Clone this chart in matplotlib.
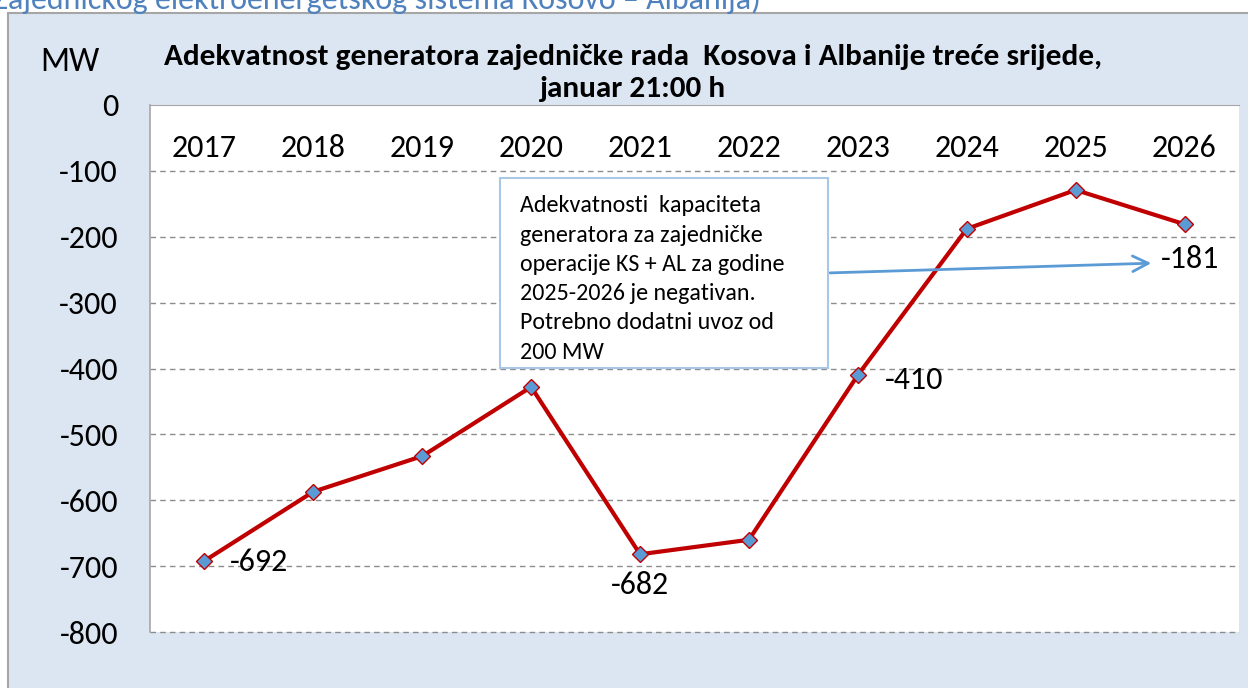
import matplotlib
matplotlib.use('Agg')
import matplotlib.pyplot as plt
from matplotlib import font_manager
from matplotlib.patches import Rectangle

# pick a Calibri-like font if one is there
names = set(f.name for f in font_manager.fontManager.ttflist)
font = 'DejaVu Sans'
for cand in ['Carlito', 'Liberation Sans Narrow', 'Open Sans', 'Noto Sans']:
    if cand in names:
        font = cand
        break
plt.rcParams['font.family'] = [font, 'DejaVu Sans']

years = ['2017', '2018', '2019', '2020', '2021', '2022', '2023', '2024', '2025', '2026']
values = [-692, -587, -533, -428, -682, -660, -410, -188, -129, -181]
labelled = {0: '-692', 4: '-682', 6: '-410', 9: '-181'}
yticks = [0, -100, -200, -300, -400, -500, -600, -700, -800]

title = 'Adekvatnost generatora zajedničke rada  Kosova i Albanije treće srijede,\njanuar 21:00 h'
note = ('Adekvatnosti  kapaciteta\ngeneratora za zajedničke\noperacije KS + AL za godine\n'
        '2025-2026 je negativan.\nPotrebno dodatni uvoz od\n200 MW')
top_text = 'Zajedničkog elektroenergetskog sistema Kosovo – Albanija)'

W, H = 1248, 688
fig = plt.figure(figsize=(W / 100, H / 100), dpi=100)
fig.patch.set_facecolor('white')

# light blue chart background with gray border
bg = Rectangle((8 / W, -0.1), 1.1, 1.1 - 13 / H, transform=fig.transFigure,
               facecolor='#dce6f2', edgecolor='#a6a6a6', linewidth=1.5, zorder=-1)
fig.patches.append(bg)

fig.text(-0.006, 1 + 1 / H, top_text, color='#4f81bd', fontsize=23, ha='left', va='center')

ax = fig.add_axes([150 / W, 1 - 632 / H, (1239 - 150) / W, (632 - 105) / H])
ax.set_facecolor('white')
x = list(range(len(years)))
ax.plot(x, values, color='#c00000', linewidth=3, marker='D', markersize=8,
        markerfacecolor='#5b9bd5', markeredgecolor='#c00000', markeredgewidth=1, zorder=3)

ax.set_xlim(-0.5, len(years) - 0.5)
ax.set_ylim(-800, 0)
ax.set_yticks(yticks)
ax.set_yticklabels([str(v) for v in yticks], fontsize=23)
ax.tick_params(axis='y', length=0, pad=23)
ax.set_xticks([])
for s in ['right', 'bottom']:
    ax.spines[s].set_visible(False)
ax.spines['left'].set_color('#a6a6a6')
ax.spines['top'].set_color('#a6a6a6')
ax.spines['left'].set_linewidth(1.2)
for v in yticks[1:]:
    ax.axhline(v, color='#8c8c8c', linestyle=(0, (4, 3)), linewidth=1, zorder=1, clip_on=False)

for i, yr in enumerate(years):
    ax.text(i, -65, yr, fontsize=23, ha='center', va='center')

offs = {0: (0.23, -2), 4: (0.0, -46), 6: (0.25, -7), 9: (-0.22, -53)}
for i, lab in labelled.items():
    dx, dy = offs[i]
    ax.text(i + dx, values[i] + dy, lab, fontsize=23, ha='left' if dx else 'center', va='center')

fig.text(70 / W, 1 - 62 / H, 'MW', fontsize=24.5, ha='center', va='center')
fig.text(633 / W, 1 - 73 / H, title, fontsize=22.5, fontweight='bold', ha='center', va='center',
         linespacing=1.3)

# callout box with arrow
box = Rectangle((500 / W, 1 - 368 / H), 328 / W, 190 / H, transform=fig.transFigure,
                facecolor='white', edgecolor='#a9c8e6', linewidth=1.5, zorder=5)
fig.patches.append(box)
fig.text(520 / W, 1 - 279 / H, note, fontsize=17.3, ha='left', va='center', linespacing=1.49, zorder=6)
ax.annotate('', xy=(8.72, -240), xytext=(5.72, -255),
            arrowprops=dict(arrowstyle='->', color='#5b9bd5', lw=2, mutation_scale=28), zorder=4)

fig.savefig('out.png', dpi=100)
